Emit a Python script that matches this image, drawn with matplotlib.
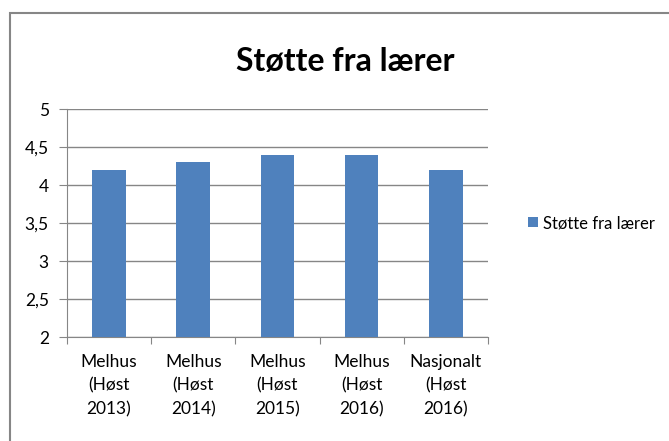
import matplotlib.pyplot as plt
from matplotlib.patches import Rectangle
import numpy as np

kategorier = ['Melhus\n(Høst\n2013)', 'Melhus\n(Høst\n2014)', 'Melhus\n(Høst\n2015)',
              'Melhus\n(Høst\n2016)', 'Nasjonalt\n(Høst\n2016)']
verdier = [4.2, 4.3, 4.4, 4.4, 4.2]
y_ticks = [2, 2.5, 3, 3.5, 4, 4.5, 5]
y_labels = ['2', '2,5', '3', '3,5', '4', '4,5', '5']

plt.rcParams['font.family'] = ['Lato', 'DejaVu Sans']
GRA = '#868686'
BLA = '#4F81BD'

fig = plt.figure(figsize=(6.69, 4.41), dpi=100)
ax = fig.add_axes([0.100, 0.2358, 0.6294, 0.5170])

# ramme rundt diagrammet
fig.patches.append(Rectangle((10 / 669, -0.1), 1.2, (441 - 13) / 441 + 0.1,
                             transform=fig.transFigure, fill=False,
                             edgecolor=GRA, linewidth=1.5, clip_on=False))

x = np.arange(len(kategorier))
ax.bar(x, verdier, width=0.4, color=BLA, label='Støtte fra lærer', zorder=3)

ax.set_xlim(-0.5, len(kategorier) - 0.5)
ax.set_ylim(2, 5)
ax.set_yticks(y_ticks)
ax.set_yticklabels(y_labels, fontsize=12.5)
ax.set_xticks(np.arange(-0.5, len(kategorier), 1.0))
ax.set_xticklabels([])
ax.set_xticks(x, minor=True)
ax.set_xticklabels(kategorier, minor=True, fontsize=12.5, linespacing=1.6)
ax.tick_params(axis='x', which='minor', length=0, pad=12)
ax.tick_params(axis='x', which='major', length=5, color=GRA)
ax.tick_params(axis='y', length=6, color=GRA, pad=7)

ax.grid(axis='y', color=GRA, linewidth=1, zorder=0)
for side in ['top', 'right']:
    ax.spines[side].set_visible(False)
ax.spines['left'].set_color(GRA)
ax.spines['bottom'].set_color(GRA)

fig.text(345 / 669, 1 - 61 / 441, 'Støtte fra lærer', ha='center', va='center',
         fontsize=23, fontweight='bold')

ax.legend(loc='center left', bbox_to_anchor=(1.06, 0.5), frameon=False,
          fontsize=12, handlelength=0.6, handleheight=0.6, handletextpad=0.3)

fig.savefig('out.png', dpi=100)
